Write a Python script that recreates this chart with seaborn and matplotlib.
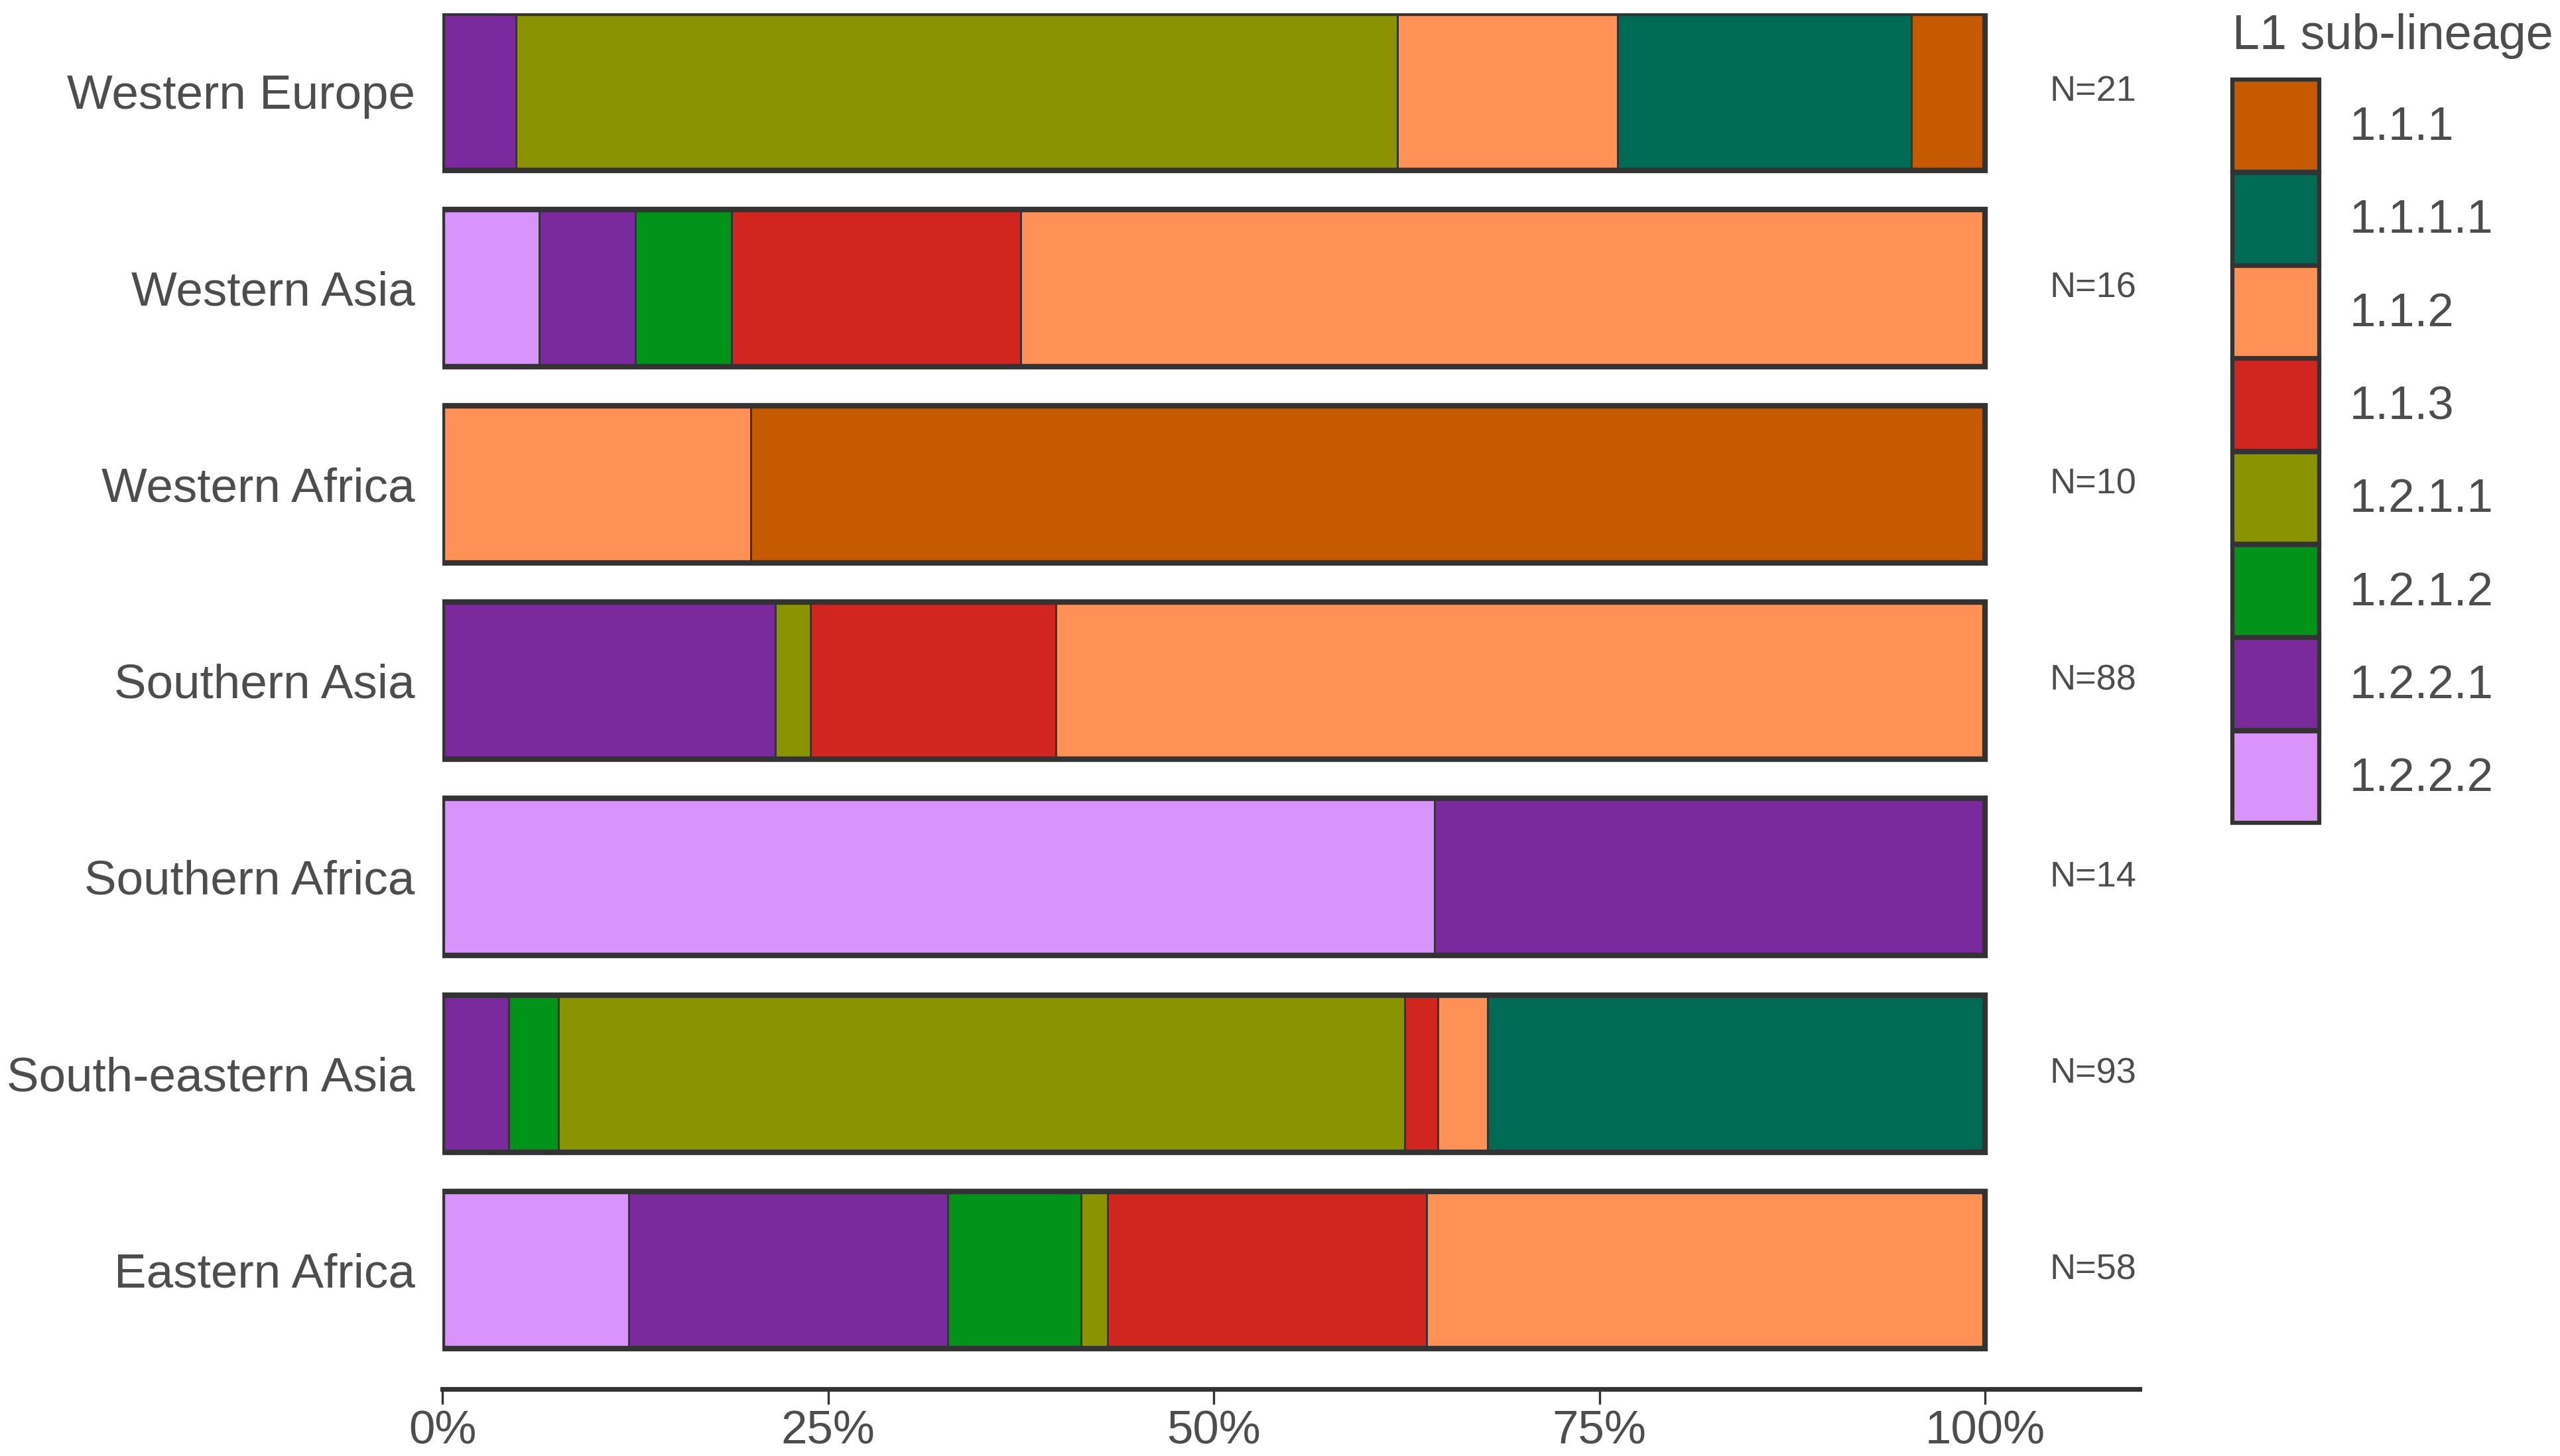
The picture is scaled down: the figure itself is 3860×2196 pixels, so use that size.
import numpy as np
import pandas as pd
import matplotlib
matplotlib.use("Agg")
import matplotlib.pyplot as plt
import seaborn as sns
from matplotlib.patches import Patch

REGIONS = ["Western Europe", "Western Asia", "Western Africa", "Southern Asia",
           "Southern Africa", "South-eastern Asia", "Eastern Africa"]
LINEAGES = ["1.1.1", "1.1.1.1", "1.1.2", "1.1.3", "1.2.1.1", "1.2.1.2", "1.2.2.1", "1.2.2.2"]
COLORS = ["#C55A00", "#006B54", "#FF9156", "#D1261F", "#8A9400", "#00931A", "#7B2A9E", "#D894FA"]

# counts per region, in LINEAGES order
WESTERN_EUROPE = [1, 4, 3, 0, 12, 0, 1, 0]
WESTERN_ASIA = [0, 0, 10, 3, 0, 1, 1, 1]
WESTERN_AFRICA = [8, 0, 2, 0, 0, 0, 0, 0]
SOUTHERN_ASIA = [0, 0, 53, 14, 2, 0, 19, 0]
SOUTHERN_AFRICA = [0, 0, 0, 0, 0, 0, 5, 9]
SE_ASIA = [0, 30, 3, 2, 51, 3, 4, 0]
EASTERN_AFRICA = [0, 0, 21, 12, 1, 5, 12, 7]

TEXT = "#4D4D4D"
EDGE = "#333333"

counts = pd.DataFrame([WESTERN_EUROPE, WESTERN_ASIA, WESTERN_AFRICA, SOUTHERN_ASIA,
                       SOUTHERN_AFRICA, SE_ASIA, EASTERN_AFRICA],
                      index=REGIONS, columns=LINEAGES)
totals = counts.sum(axis=1)
props = counts.div(totals, axis=0)

# stacked from the left starting with the last lineage
stack_order = LINEAGES[::-1]
cum = props[stack_order].cumsum(axis=1)

sns.set_style("white")
plt.rcParams["font.family"] = ["Liberation Sans", "DejaVu Sans"]

fig = plt.figure(figsize=(12.87, 7.32), dpi=300)
ax = fig.add_axes([0.1728, 0.046, 0.6627, 0.945])

color_map = dict(zip(LINEAGES, COLORS))
for lin in stack_order[::-1]:
    d = pd.DataFrame({"region": REGIONS, "value": cum[lin].values})
    sns.barplot(data=d, x="value", y="region", orient="h", order=REGIONS,
                color=color_map[lin], saturation=1, width=0.8,
                edgecolor=EDGE, linewidth=0.7, ax=ax)

outline = pd.DataFrame({"region": REGIONS, "value": cum[stack_order[-1]].values})
sns.barplot(data=outline, x="value", y="region", orient="h", order=REGIONS,
            fill=False, color=EDGE, width=0.8, linewidth=2.0, ax=ax)
for p in ax.patches[-len(REGIONS):]:
    p.set_facecolor("none")
    p.set_edgecolor(EDGE)
    p.set_linewidth(2.0)

for i, r in enumerate(REGIONS):
    ax.text(1.07, i, f"N={totals[r]}", ha="center", va="center", fontsize=13, color=TEXT)

ax.set_xlim(0, 1.1)
ax.set_ylim(6.607, -0.4)
ax.set_xticks([0, 0.25, 0.5, 0.75, 1.0])
ax.set_xticklabels(["0%", "25%", "50%", "75%", "100%"])
ax.set_xlabel("")
ax.set_ylabel("")
ax.tick_params(axis="x", bottom=True, length=5.5, width=0.8, color=EDGE,
               labelsize=17, labelcolor=TEXT, pad=2)
ax.tick_params(axis="y", left=False, length=0, labelsize=17.5, labelcolor=TEXT, pad=10)
for s in ["top", "right", "left"]:
    ax.spines[s].set_visible(False)
ax.spines["bottom"].set_color(EDGE)
ax.spines["bottom"].set_linewidth(1.7)

handles = [Patch(facecolor=c, edgecolor=EDGE, linewidth=1.5, label=l)
           for l, c in zip(LINEAGES, COLORS)]
leg = fig.legend(handles=handles, title="L1 sub-lineage", loc="upper left",
                 bbox_to_anchor=(0.8625, 1.007), frameon=False, fontsize=17,
                 title_fontsize=17.7, handlelength=1.85, handleheight=2.64,
                 labelspacing=0.02, handletextpad=0.65, borderpad=0.0,
                 alignment="left")
leg._legend_box.sep = 7.5
for t in leg.get_texts():
    t.set_color(TEXT)
leg.get_title().set_color(TEXT)

fig.savefig("out.png", dpi=300, facecolor="white")
